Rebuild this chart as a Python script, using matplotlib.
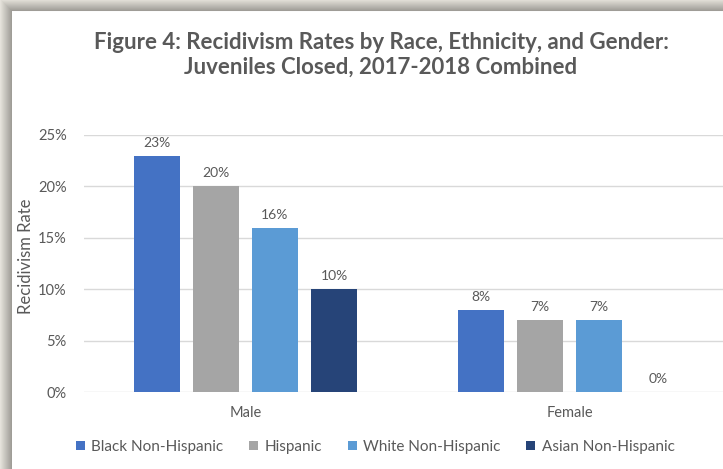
import numpy as np
import matplotlib.pyplot as plt

# recidivism rates (%) by gender and race/ethnicity
genders = ['Male', 'Female']
black = [23, 8]
hispanic = [20, 7]
white = [16, 7]
asian = [10, 0]
series_names = ['Black Non-Hispanic', 'Hispanic', 'White Non-Hispanic', 'Asian Non-Hispanic']
colors = ['#4472C4', '#A5A5A5', '#5B9BD5', '#264478']
yticks = [0, 5, 10, 15, 20, 25]

plt.rcParams['font.family'] = ['Lato', 'DejaVu Sans']
text_color = '#595959'

W, H = 723, 469
fig = plt.figure(figsize=(W / 100, H / 100), dpi=100)

# drop shadow around the chart box (top and left edges)
bg = fig.add_axes([0, 0, 1, 1], zorder=-10)
yy, xx = np.mgrid[0:H, 0:W]
x0, y0 = 12, 12
d = np.maximum(np.maximum(x0 - xx, y0 - yy), 0).astype(float)
inside = (xx >= x0) & (yy >= y0)
t = np.clip(d / 12.0, 0, 1)
dark = np.array([0.60, 0.59, 0.57])
light = np.array([0.90, 0.89, 0.86])
img = dark[None, None, :] * (1 - t[..., None]) + light[None, None, :] * t[..., None]
img[inside] = 1.0
bg.imshow(img, aspect='auto', extent=[0, 1, 0, 1], interpolation='bilinear')
bg.set_axis_off()

ax = fig.add_axes([83.5 / W, 77 / H, 648 / W, 257 / H])
ax.set_facecolor('none')

x = np.arange(len(genders))
step = 59 / 324
width = 46 / 324
all_series = [black, hispanic, white, asian]
for i, (vals, name, c) in enumerate(zip(all_series, series_names, colors)):
    pos = x + (i - 1.5) * step
    ax.bar(pos, vals, width=width, color=c, label=name, zorder=3)
    for xp, v in zip(pos, vals):
        ax.annotate(f'{v}%', (xp, v), xytext=(0, 5), textcoords='offset points',
                    ha='center', va='bottom', fontsize=10, color=text_color)

ax.set_xlim(-0.5, 1.5)
ax.set_ylim(0, 25)
ax.set_yticks(yticks)
ax.set_yticklabels([f'{v}%' for v in yticks])
ax.set_xticks(x)
ax.set_xticklabels(genders)
ax.tick_params(axis='both', length=0, labelsize=10.5, colors=text_color)
ax.tick_params(axis='y', pad=12)
ax.tick_params(axis='x', pad=10)
ax.grid(axis='y', color='#D9D9D9', linewidth=1, zorder=0)
for s in ax.spines.values():
    s.set_visible(False)
ax.set_ylabel('Recidivism Rate', fontsize=12, color=text_color)
ax.yaxis.set_label_coords(-49 / 648, 0.53)

fig.text(381 / W, 1 - 55 / H,
         'Figure 4: Recidivism Rates by Race, Ethnicity, and Gender:\nJuveniles Closed, 2017-2018 Combined',
         ha='center', va='center', fontsize=16, fontweight='bold', color=text_color,
         linespacing=1.2)

fig.legend(loc='center', bbox_to_anchor=(375 / W, 1 - 447 / H), ncol=4, frameon=False,
           fontsize=11, labelcolor=text_color, handlelength=0.6, handleheight=0.6,
           handletextpad=0.4, columnspacing=1.7)

fig.savefig('out.png', dpi=100)
